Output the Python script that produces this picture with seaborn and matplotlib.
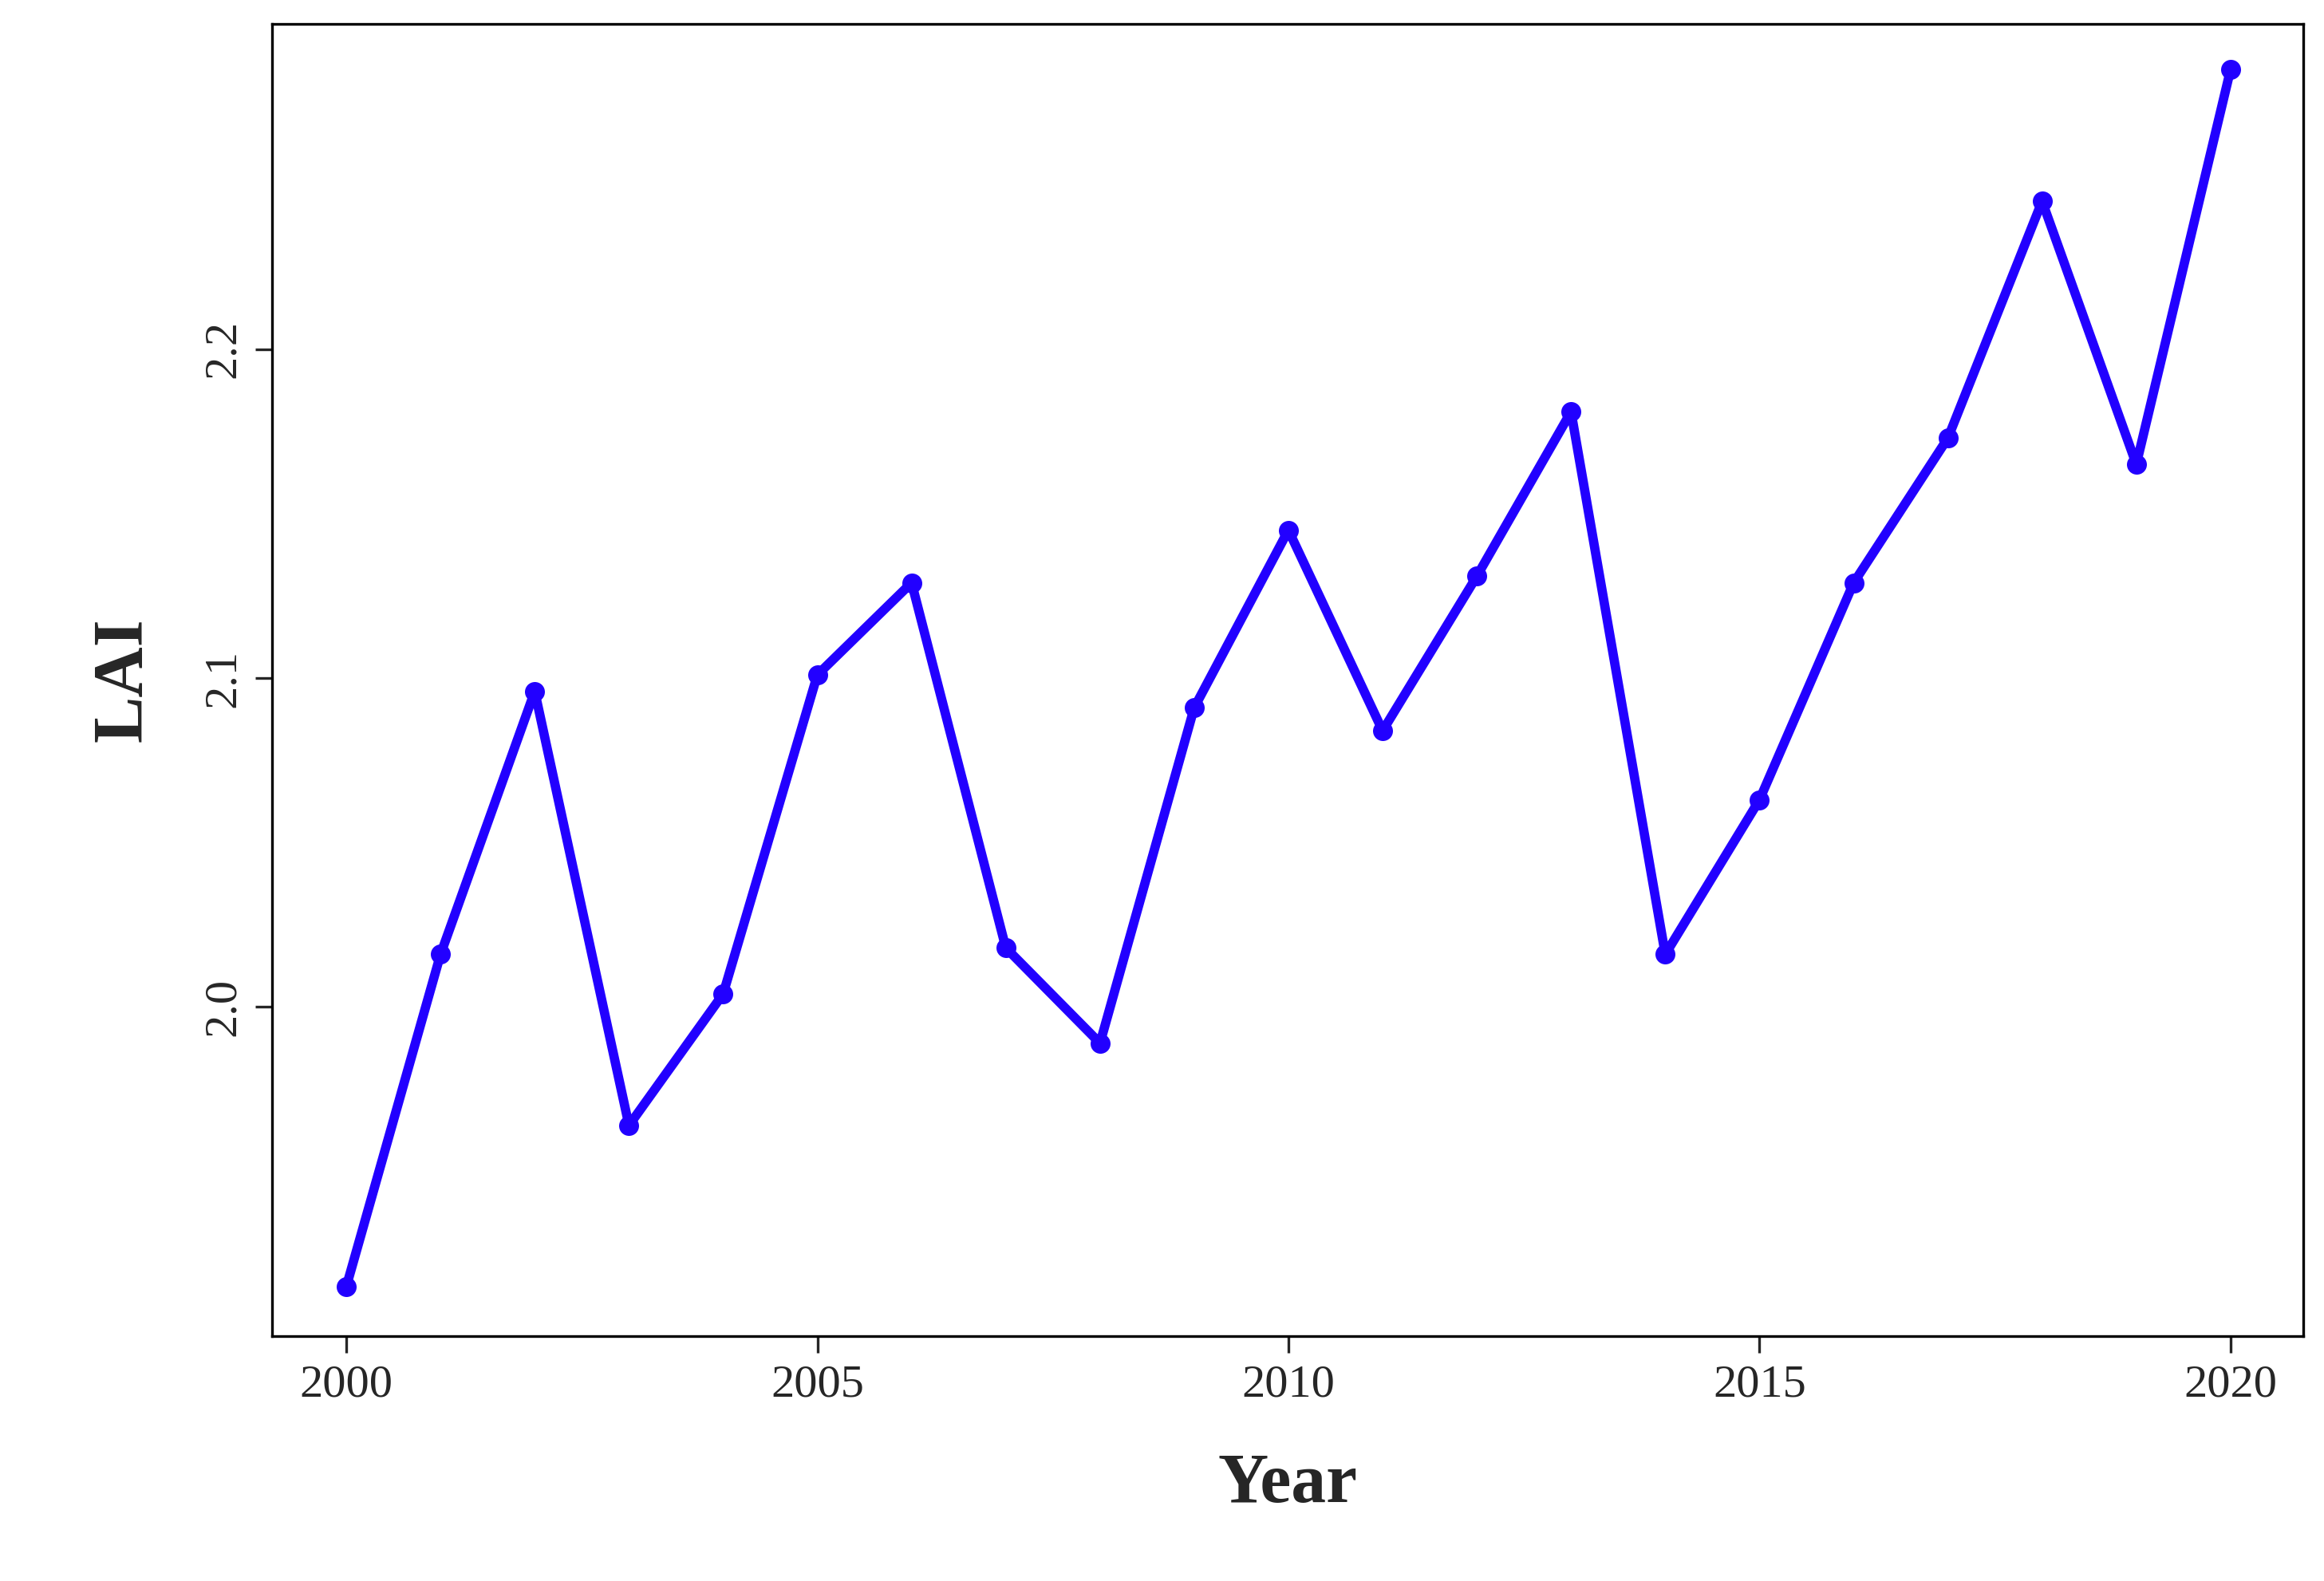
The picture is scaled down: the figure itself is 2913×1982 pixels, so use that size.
import matplotlib
matplotlib.use("Agg")
import matplotlib.pyplot as plt
import seaborn as sns
import pandas as pd

years = list(range(2000, 2021))
lai = [1.915, 2.016, 2.096, 1.964, 2.004, 2.101, 2.129, 2.018, 1.989, 2.091,
       2.145, 2.084, 2.131, 2.181, 2.016, 2.063, 2.129, 2.173, 2.245, 2.165, 2.285]

df = pd.DataFrame({'Year': years, 'LAI': lai})

sns.set_style('white')
plt.rcParams['font.family'] = ['Liberation Serif', 'DejaVu Serif']

fig = plt.figure(figsize=(9.71, 6.607), dpi=300)
ax = fig.add_axes([0.117, 0.155, 0.874, 0.83])
sns.lineplot(data=df, x='Year', y='LAI', ax=ax, color='#2200ff', linewidth=2.8,
             marker='o', markersize=6, markeredgewidth=0)

ax.set_xlim(1999.21, 2020.77)
ax.set_ylim(1.9, 2.299)
ax.set_xticks([2000, 2005, 2010, 2015, 2020])
ax.set_yticks([2.0, 2.1, 2.2])
ax.set_yticklabels(['2.0', '2.1', '2.2'], rotation=90, va='center')
ax.tick_params(axis='both', labelsize=14, length=5, width=0.8, direction='out',
               bottom=True, left=True)
for s in ax.spines.values():
    s.set_color('black')
    s.set_linewidth(0.8)
ax.set_xlabel('Year', fontsize=21, fontweight='bold', labelpad=14)
ax.set_ylabel('LAI', fontsize=21, fontweight='bold', labelpad=14)

fig.savefig('out.png', dpi=300)
